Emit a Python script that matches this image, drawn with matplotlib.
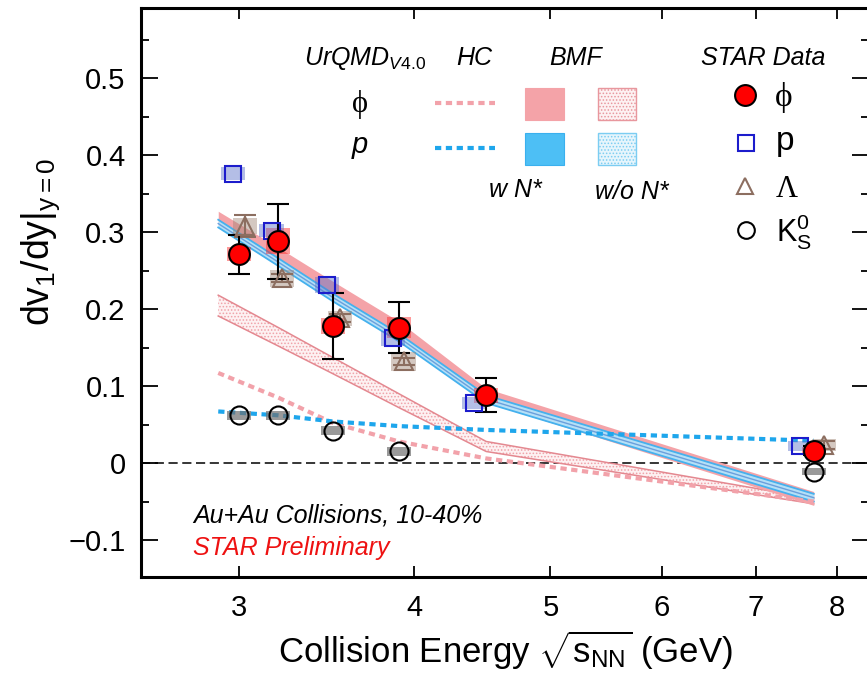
import matplotlib
matplotlib.use('Agg')
import matplotlib.pyplot as plt
import numpy as np
from matplotlib.patches import Rectangle
from matplotlib.lines import Line2D
from matplotlib.ticker import FixedLocator, FixedFormatter, NullLocator, MultipleLocator

plt.rcParams['font.family'] = ['Liberation Sans', 'DejaVu Sans']
plt.rcParams['mathtext.fontset'] = 'custom'
plt.rcParams['mathtext.rm'] = 'Liberation Sans'
plt.rcParams['mathtext.it'] = 'Liberation Sans:italic'
plt.rcParams['hatch.linewidth'] = 0.7

# ---------------- data ----------------
# STAR data
phi_E = [3.0, 3.2, 3.5, 3.9, 4.5, 7.7]
phi_v = [0.271, 0.288, 0.178, 0.176, 0.088, 0.016]
phi_stat = [0.025, 0.049, 0.043, 0.033, 0.022, 0.006]
phi_sys = [0.009, 0.017, 0.011, 0.014, 0.010, 0.005]

p_E = [2.97, 3.165, 3.467, 3.864, 4.41, 7.53]
p_v = [0.376, 0.302, 0.231, 0.162, 0.078, 0.022]
p_sys = [0.008, 0.008, 0.010, 0.010, 0.008, 0.006]

lam_E = [3.03, 3.22, 3.54, 3.93, 7.83]
lam_v = [0.308, 0.240, 0.188, 0.132, 0.023]
lam_stat = [0.014, 0.005, 0.005, 0.005, 0.005]
lam_sys = [0.010, 0.011, 0.010, 0.012, 0.008]

k0_E = [3.0, 3.2, 3.5, 3.9, 7.7]
k0_v = [0.062, 0.062, 0.042, 0.015, -0.011]
k0_sys = [0.006, 0.006, 0.006, 0.006, 0.004]

# UrQMD model curves
model_E = [2.9, 3.2, 3.5, 3.9, 4.5, 7.7]
bmf_phi_wN = [0.318, 0.271, 0.227, 0.175, 0.088, -0.046]
bmf_phi_wN_hw = 0.009
bmf_p_wN = [0.311, 0.261, 0.215, 0.163, 0.083, -0.045]
bmf_p_wN_hw = 0.005
bmf_phi_woN_hi = [0.218, 0.176, 0.137, 0.090, 0.028, -0.046]
bmf_phi_woN_lo = [0.191, 0.152, 0.116, 0.072, 0.015, -0.053]
hc_phi = [0.117, 0.085, 0.052, 0.028, 0.006, -0.050]
hc_p = [0.067, 0.062, 0.054, 0.048, 0.043, 0.029]

xticks = [3, 4, 5, 6, 7, 8]
xticklabels = ['3', '4', '5', '6', '7', '8']
yticks = [-0.1, 0.0, 0.1, 0.2, 0.3, 0.4, 0.5]
yticklabels = ['\u22120.1', '0', '0.1', '0.2', '0.3', '0.4', '0.5']

# ---------------- figure ----------------
W, H = 867, 679
fig = plt.figure(figsize=(W / 100, H / 100), dpi=100)
ax = fig.add_axes([141 / W, 1 - 577 / H, 728 / W, 569 / H])
ax.set_xscale('log')
ax.set_xlim(2.555, 8.43)
ax.set_ylim(-0.148, 0.591)

for s in ax.spines.values():
    s.set_linewidth(2.2)

ax.xaxis.set_major_locator(FixedLocator(xticks))
ax.xaxis.set_major_formatter(FixedFormatter(xticklabels))
ax.xaxis.set_minor_locator(NullLocator())
ax.yaxis.set_major_locator(FixedLocator(yticks))
ax.yaxis.set_major_formatter(FixedFormatter(yticklabels))
ax.yaxis.set_minor_locator(MultipleLocator(0.05))
ax.tick_params(which='both', direction='in', top=True, right=True)
ax.tick_params(axis='x', which='major', length=8, width=1.3, pad=12, labelsize=21)
ax.tick_params(axis='y', which='major', length=12, width=1.3, pad=11, labelsize=21)
ax.tick_params(axis='y', which='minor', length=6, width=1.3)

ax.set_xlabel(r'Collision Energy $\sqrt{\mathregular{s}_\mathregular{NN}}$ (GeV)', fontsize=25)
ax.xaxis.set_label_coords(0.5, -0.090)
ax.set_ylabel(r'dv$_\mathit{1}$/dy|$_\mathregular{y=0}$', fontsize=27)
ax.yaxis.set_label_coords(-0.108, 0.589)

# zero line
ax.axhline(0, color='k', lw=1.1, ls=(0, (6, 3)), zorder=1)

# model bands
E = np.array(model_E)
ax.fill_between(E, bmf_phi_woN_lo, bmf_phi_woN_hi, facecolor='#fdf1f2',
                edgecolor='#f0a2a9', hatch='.....', lw=0, zorder=1.5)
ax.plot(E, bmf_phi_woN_hi, color='#e48890', lw=1.1, zorder=1.6)
ax.plot(E, bmf_phi_woN_lo, color='#e48890', lw=1.1, zorder=1.6)

c = np.array(bmf_phi_wN)
ax.fill_between(E, c - bmf_phi_wN_hw, c + bmf_phi_wN_hw, color='#f4a3a8', lw=0, zorder=2)
c = np.array(bmf_p_wN)
ax.fill_between(E, c - bmf_p_wN_hw, c + bmf_p_wN_hw, color='#b5e0f7', lw=0, zorder=3)
ax.plot(E, c - bmf_p_wN_hw, color='#45b1ee', lw=1.3, zorder=3.1)
ax.plot(E, c + bmf_p_wN_hw, color='#45b1ee', lw=1.3, zorder=3.1)
ax.plot(E, c, color='#6a9fdc', lw=1.0, zorder=3.1)

ax.plot(E, hc_phi, color='#f2a2aa', lw=3.0, ls=(0, (1.5, 1.1)), zorder=3.5)
ax.plot(E, hc_p, color='#1ea6ec', lw=3.0, ls=(0, (1.5, 1.1)), zorder=3.5)

# systematic boxes
def sysboxes(xs, ys, es, color, alpha):
    for x, y, e in zip(xs, ys, es):
        x0 = x * np.exp(-0.02)
        x1 = x * np.exp(0.02)
        ax.add_patch(Rectangle((x0, y - e), x1 - x0, 2 * e, facecolor=color,
                               alpha=alpha, lw=0, zorder=4))

sysboxes(phi_E, phi_v, phi_sys, '#ff2020', 0.45)
sysboxes(p_E, p_v, p_sys, '#5a70c8', 0.45)
sysboxes(lam_E, lam_v, lam_sys, '#a08676', 0.45)
sysboxes(k0_E, k0_v, k0_sys, '#707070', 0.7)

ax.errorbar(lam_E, lam_v, yerr=lam_stat, fmt='none', ecolor='#8c6e60', elinewidth=1.5,
            capsize=8, capthick=1.5, zorder=5)
ax.errorbar(phi_E, phi_v, yerr=phi_stat, fmt='none', ecolor='k', elinewidth=1.5,
            capsize=8, capthick=1.5, zorder=5)

ax.plot(k0_E, k0_v, ls='none', marker='o', ms=13, mfc='none', mec='k', mew=1.5, zorder=6)
ax.plot(lam_E, lam_v, ls='none', marker='^', ms=13, mfc='none', mec='#8c6e60', mew=1.5, zorder=6)
ax.plot(p_E, p_v, ls='none', marker='s', ms=12, mfc='none', mec='#1c1ccc', mew=1.5, zorder=6)
ax.plot(phi_E, phi_v, ls='none', marker='o', ms=15, mfc='#ff0000', mec='k', mew=1.5, zorder=7)

# ---------------- legend (figure pixel coords) ----------------
def P(x, y):
    return (x / W, 1 - y / H)

hdr = dict(fontsize=18, style='italic', ha='center', va='baseline')
fig.text(*P(365, 65), r'UrQMD$_{\mathit{V4.0}}$', **hdr)
fig.text(*P(474, 65), 'HC', **hdr)
fig.text(*P(576, 65), 'BMF', **hdr)
fig.text(*P(763, 65), 'STAR Data', **hdr)

fig.text(*P(360, 112), '\u03d5', fontsize=22, ha='center', va='baseline',
         family=['Liberation Serif', 'DejaVu Serif'])
fig.text(*P(360, 153), 'p', fontsize=21, style='italic', ha='center', va='baseline')

fig.add_artist(Line2D([435 / W, 495 / W], [1 - 103 / H] * 2, transform=fig.transFigure,
                      color='#f2a2aa', lw=3.0, ls=(0, (1.5, 1.1))))
fig.add_artist(Line2D([435 / W, 495 / W], [1 - 148 / H] * 2, transform=fig.transFigure,
                      color='#1ea6ec', lw=3.0, ls=(0, (1.5, 1.1))))

def fbox(x0, y0, x1, y1, **kw):
    fig.add_artist(Rectangle((x0 / W, 1 - y1 / H), (x1 - x0) / W, (y1 - y0) / H,
                             transform=fig.transFigure, **kw))

fbox(525, 88, 564, 120, facecolor='#f4a3a8', edgecolor='#f4a3a8', lw=0.8)
fbox(525, 133, 564, 165, facecolor='#4dbff5', edgecolor='#3ab0ee', lw=0.8)
fbox(598, 88, 636, 120, facecolor='#fdf1f2', edgecolor='#e8979e', hatch='.....', lw=1.0)
fbox(598, 133, 636, 165, facecolor='#e6f5fc', edgecolor='#7ccdf2', hatch='.....', lw=1.0)

fig.text(*P(515, 197), 'w N*', fontsize=18, style='italic', ha='center', va='baseline')
fig.text(*P(632, 199), 'w/o N*', fontsize=18, style='italic', ha='center', va='baseline')

def fmark(x, y, **kw):
    fig.add_artist(Line2D([x / W], [1 - y / H], transform=fig.transFigure, ls='none', **kw))

fmark(745, 95, marker='o', ms=15, mfc='#ff0000', mec='k', mew=1.5)
fmark(745.5, 143, marker='s', ms=11, mfc='none', mec='#1c1ccc', mew=1.5)
fmark(745, 186, marker='^', ms=12, mfc='none', mec='#8c6e60', mew=1.5)
fmark(745.5, 230, marker='o', ms=12, mfc='none', mec='k', mew=1.5)

fig.text(*P(775, 106), '\u03d5', fontsize=24, ha='left', va='baseline',
         family=['Liberation Serif', 'DejaVu Serif'])
fig.text(*P(776, 150), 'p', fontsize=24, ha='left', va='baseline')
fig.text(*P(776, 197), '\u039b', fontsize=22, ha='left', va='baseline',
         family=['Liberation Serif', 'DejaVu Serif'])
fig.text(*P(776, 241), r'K$_\mathregular{S}^\mathregular{0}$', fontsize=22, ha='left', va='baseline')

fig.text(*P(193, 522), 'Au+Au Collisions, 10-40%', fontsize=18, style='italic',
         ha='left', va='baseline')
fig.text(*P(193, 555), 'STAR Preliminary', fontsize=18, style='italic', color='#ee1111',
         ha='left', va='baseline')

fig.savefig('out.png', dpi=100)
